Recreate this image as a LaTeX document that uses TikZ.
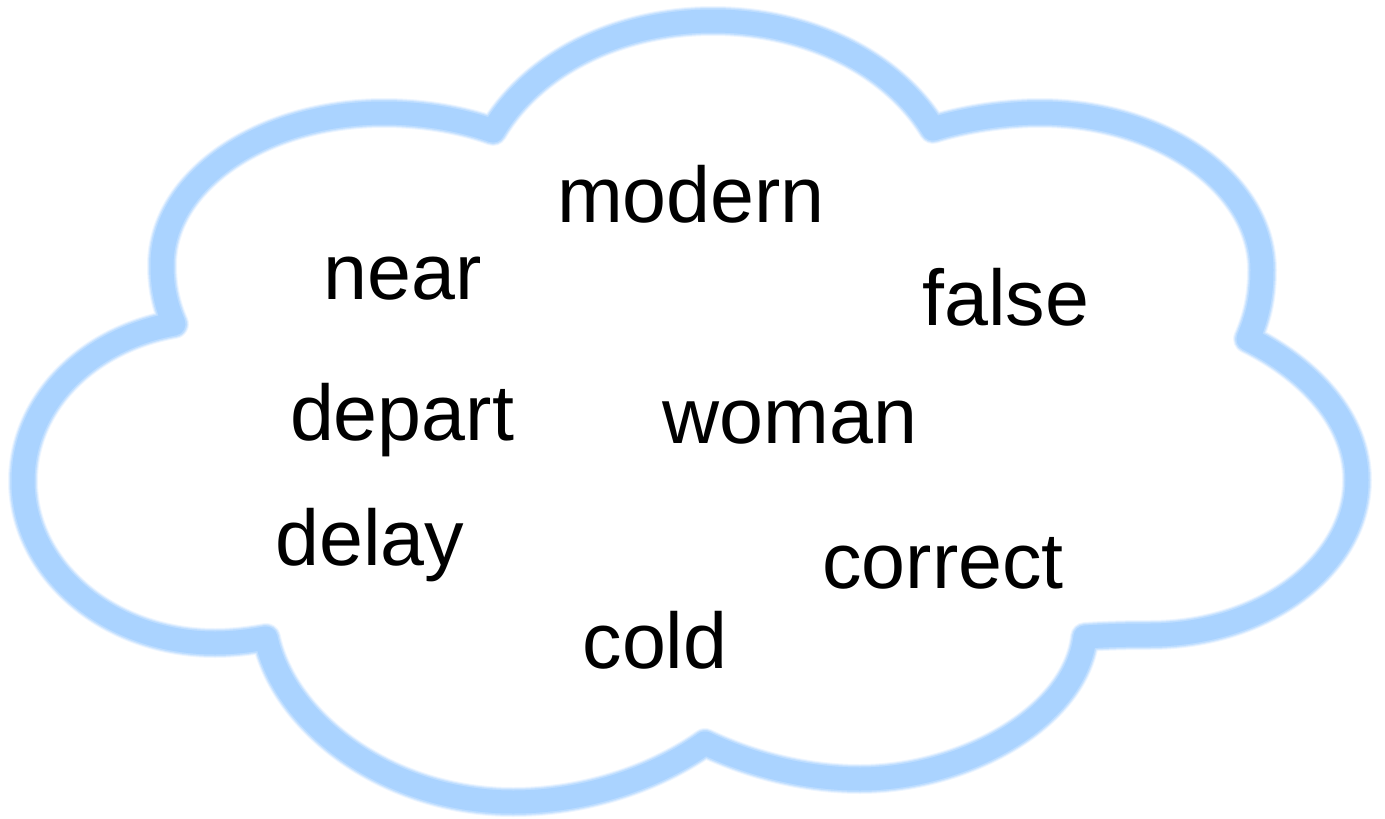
\documentclass[tikz,border=0pt]{standalone}
\usepackage{fontspec}
\setmainfont{Liberation Sans}
\definecolor{cloudblue}{RGB}{170,211,255}
\begin{document}
\begin{tikzpicture}[x=1pt,y=-1pt,
  word/.style={anchor=base,inner sep=0pt,font=\fontsize{79}{90}\selectfont},
  cloudpath/.style={line join=round,line cap=round}]
\useasboundingbox (0,0) rectangle (1385,819);
\def\cloud{(493,131)
 .. controls (534,62) and (620,21) .. (713,21)
 .. controls (806,21) and (892,62) .. (933,129)
 .. controls (965,119) and (1005,113) .. (1040,113)
 .. controls (1162,113) and (1262,184) .. (1262,270)
 .. controls (1262,300) and (1256,320) .. (1248,339)
 .. controls (1310,370) and (1357,420) .. (1357,480)
 .. controls (1357,565) and (1264,635) .. (1150,635)
 .. controls (1120,635) and (1100,636) .. (1085,637)
 .. controls (1075,720) and (960,779) .. (860,779)
 .. controls (800,779) and (745,762) .. (705,743)
 .. controls (660,775) and (590,802) .. (513,802)
 .. controls (390,802) and (285,725) .. (266,638)
 .. controls (249,641) and (232,643) .. (215,643)
 .. controls (109,643) and (23,570) .. (23,481)
 .. controls (23,405) and (85,340) .. (174,324)
 .. controls (166,305) and (162,288) .. (162,265)
 .. controls (162,181) and (262,113) .. (384,113)
 .. controls (420,113) and (460,119) .. (493,131) -- cycle}
\draw[cloudpath,draw=cloudblue!20,line width=30pt] \cloud;
\draw[cloudpath,draw=cloudblue!45,line width=28pt] \cloud;
\draw[cloudpath,draw=cloudblue!75,line width=26pt] \cloud;
\draw[cloudpath,draw=cloudblue,line width=23pt] \cloud;
\node[word] (modern)  at (691,222) {modern};
\node[word] (near)    at (403,299) {near};
\node[word] (false)   at (1006,325) {false};
\node[word] (depart)  at (402,440) {depart};
\node[word] (woman)   at (790,443) {woman};
\node[word] (delay)   at (370,565) {delay};
\node[word] (correct) at (943,588) {correct};
\node[word] (cold)    at (655,668) {cold};
\end{tikzpicture}
\end{document}
